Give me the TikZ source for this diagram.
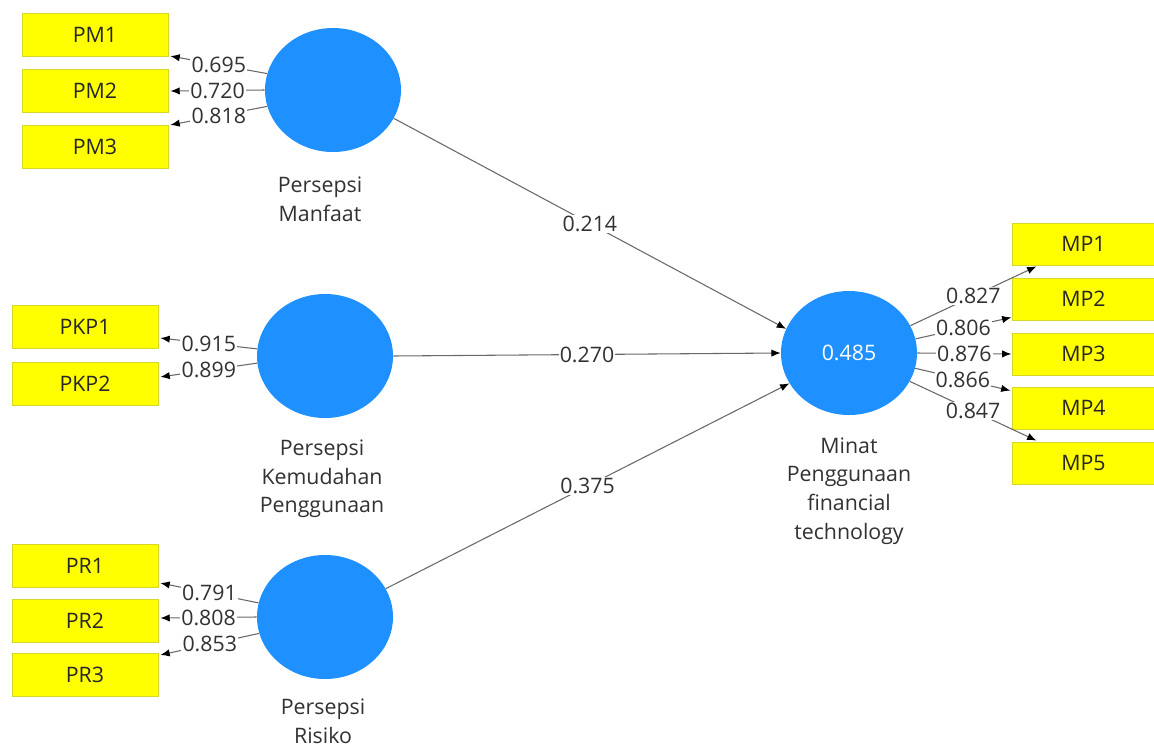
\documentclass[tikz,border=0pt]{standalone}
\usepackage{fontspec}
\setmainfont{Open Sans}
\usetikzlibrary{shapes.geometric,arrows.meta,calc}
\definecolor{lvblue}{RGB}{30,144,255}
\definecolor{mvyellow}{RGB}{255,255,0}
\definecolor{mvedge}{RGB}{215,215,40}
\definecolor{txt}{RGB}{50,50,50}
\definecolor{edge}{RGB}{105,105,105}
\begin{document}
\begin{tikzpicture}[x=0.75pt,y=-0.75pt,
  font=\fontsize{16}{21.5}\selectfont,
  lv/.style={ellipse,fill=lvblue,draw=none,minimum width=102pt,minimum height=93pt,inner sep=0pt,text=white},
  mv/.style={rectangle,fill=mvyellow,draw=mvedge,line width=0.6pt,minimum width=109.5pt,minimum height=32.5pt,inner sep=0pt,text=black!85},
  mvr/.style={mv,minimum width=106pt,minimum height=31.5pt},
  lvname/.style={align=center,text=txt},
  lbl/.style={fill=white,inner sep=0.8pt,text=txt},
  conn/.style={draw=edge,line width=0.8pt,-{Latex[color=black,length=7pt,width=5.5pt]}}
]
\useasboundingbox (0,0) rectangle (1154,747);
\fill[white] (0,0) rectangle (1154,747);

% latent variables
\node[lv] (pm) at (333,90) {};
\node[lv] (pkp) at (325,356) {};
\node[lv] (pr) at (325,617) {};
\node[lv] (mp) at (849,353) {0.485};

\node[lvname] (pmname) at (320,199) {Persepsi\\Manfaat};
\node[lvname] (pkpname) at (322,479) {Persepsi\\Kemudahan\\Penggunaan};
\node[lvname] (prname) at (323,721) {Persepsi\\Risiko};
\node[lvname] (mpname) at (849,491) {Minat\\Penggunaan\\financial\\technology};

% indicators
\node[mv] (pm1) at (95,35) {PM1};
\node[mv] (pm2) at (95,91) {PM2};
\node[mv] (pm3) at (95,147) {PM3};
\node[mv] (pkp1) at (85,327) {PKP1};
\node[mv] (pkp2) at (85,384) {PKP2};
\node[mv] (pr1) at (85,566) {PR1};
\node[mv] (pr2) at (85,621) {PR2};
\node[mv] (pr3) at (85,675) {PR3};
\node[mvr] (mp1) at (1083.5,244) {MP1};
\node[mvr] (mp2) at (1083.5,299) {MP2};
\node[mvr] (mp3) at (1083.5,354) {MP3};
\node[mvr] (mp4) at (1083.5,408) {MP4};
\node[mvr] (mp5) at (1083.5,463) {MP5};

% arrow end points on indicators
\coordinate (t-pm1) at ($(pm1.south east)+(2,-1)$);
\coordinate (t-pm2) at ($(pm2.east)+(2,0)$);
\coordinate (t-pm3) at ($(pm3.north east)+(2,0)$);
\coordinate (t-pkp1) at ($(pkp1.south east)+(2,-11)$);
\coordinate (t-pkp2) at ($(pkp2.north east)+(2,15)$);
\coordinate (t-pr1) at ($(pr1.south east)+(2,-5)$);
\coordinate (t-pr2) at ($(pr2.east)+(2,-3)$);
\coordinate (t-pr3) at ($(pr3.north east)+(2,2)$);
\coordinate (t-mp1) at ($(mp1.south west)+(24,1)$);
\coordinate (t-mp2) at ($(mp2.south west)+(-1,-3)$);
\coordinate (t-mp3) at ($(mp3.west)+(-1,0)$);
\coordinate (t-mp4) at ($(mp4.north west)+(-2,4)$);
\coordinate (t-mp5) at ($(mp5.north west)+(24,-1)$);

% outer loadings
\draw[conn] (pm.166) -- node[lbl] {0.695} (t-pm1);
\draw[conn] (pm.180) -- node[lbl] {0.720} (t-pm2);
\draw[conn] (pm.194) -- node[lbl] {0.818} (t-pm3);
\draw[conn] (pkp.174) -- node[lbl] {0.915} (t-pkp1);
\draw[conn] (pkp.186) -- node[lbl] {0.899} (t-pkp2);
\draw[conn] (pr.168) -- node[lbl] {0.791} (t-pr1);
\draw[conn] (pr.180) -- node[lbl] {0.808} (t-pr2);
\draw[conn] (pr.194) -- node[lbl] {0.853} (t-pr3);
\draw[conn] (mp.24) -- node[lbl] {0.827} (t-mp1);
\draw[conn] (mp.12) -- node[lbl] {0.806} (t-mp2);
\draw[conn] (mp.0) -- node[lbl] {0.876} (t-mp3);
\draw[conn] (mp.-13) -- node[lbl] {0.866} (t-mp4);
\draw[conn] (mp.-25) -- node[lbl] {0.847} (t-mp5);

% path coefficients
\draw[conn] (pm.-25) -- node[lbl] {0.214} (mp.159);
\draw[conn] (pkp.east) -- node[lbl] {0.270} (mp.west);
\draw[conn] (pr.25) -- node[lbl] {0.375} (mp.207);
\end{tikzpicture}
\end{document}
